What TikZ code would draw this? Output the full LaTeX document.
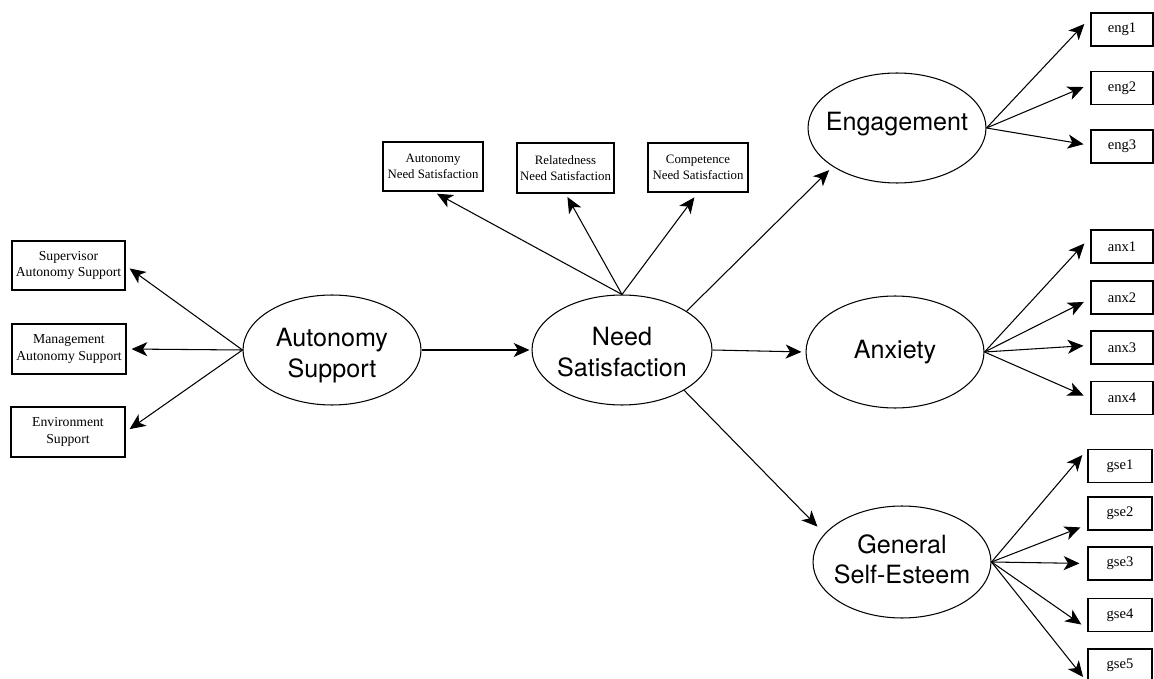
\documentclass[tikz,border=0pt]{standalone}
\usepackage{fontspec}
\setmainfont{Liberation Serif}
\newfontfamily\latentfont{TeX Gyre Heros}
\usetikzlibrary{shapes.geometric,arrows.meta}
% a line of text that takes no width, so the ellipse keeps its set size
\newcommand\zerowd[1]{\makebox[0pt][c]{#1}}
\begin{document}
\begin{tikzpicture}[x=0.02cm,y=-0.02cm,
  latent/.style={ellipse,draw,line width=0.6pt,inner sep=0pt,
    minimum width=3.56cm,minimum height=2.2cm,align=center,
    font=\latentfont\fontsize{14.3}{17.5}\selectfont},
  indic/.style={rectangle,draw,line width=0.6pt,inner sep=0pt,align=center,
    font=\fontsize{7.8}{9.5}\selectfont},
  obsbox/.style={rectangle,draw,line width=0.6pt,inner sep=0pt,
    minimum width=1.24cm,minimum height=0.66cm,
    font=\fontsize{8.3}{10}\selectfont},
  link/.style={draw,line width=0.6pt,-{Stealth[length=9pt,width=8pt,inset=2.5pt]}}
]
\useasboundingbox (0,0) rectangle (1154,679);

% latent factors (invisible rules set the vertical placement of the labels)
\node[latent] (as)  at (332,350) {\zerowd{\rule{0pt}{16.5pt}Autonomy}\\\zerowd{Support}};
\node[latent,minimum width=3.6cm] (ns)  at (622,350) {\zerowd{\rule{0pt}{12.6pt}Need}\\\zerowd{Satisfaction}};
\node[latent] (eng) at (897,128) {\zerowd{Engagement\rule[-7.6pt]{0pt}{7.6pt}}};
\node[latent,minimum height=2.24cm] (anx) at (895,352) {\zerowd{Anxiety}};
\node[latent,minimum height=2.24cm] (gse) at (902,562) {\zerowd{General}\\\zerowd{Self-Esteem\rule[-3.4pt]{0pt}{3.4pt}}};

% indicators of autonomy support
\node[indic,minimum width=2.26cm,minimum height=0.98cm] (sup) at (68.5,265.5) {Supervisor\\Autonomy Support};
\node[indic,minimum width=2.28cm,minimum height=1.0cm] (man) at (69,349) {Management\\Autonomy Support};
\node[indic,minimum width=2.28cm,minimum height=1.0cm] (env) at (68,432) {Environment\\Support};

% indicators of need satisfaction
\node[indic,minimum width=2.0cm,minimum height=0.98cm,font=\fontsize{7.3}{9.2}\selectfont] (ans) at (433,166.5) {Autonomy\\Need Satisfaction};
\node[indic,minimum width=1.94cm,minimum height=1.0cm,font=\fontsize{7.3}{9.2}\selectfont] (rns) at (565.5,168) {Relatedness\\Need Satisfaction};
\node[indic,minimum width=2.0cm,minimum height=0.98cm,font=\fontsize{7.3}{9.2}\selectfont] (cns) at (698,167.5) {Competence\\Need Satisfaction};

% engagement items
\node[obsbox] (e1) at (1122,29.5) {eng1};
\node[obsbox] (e2) at (1122,88) {eng2};
\node[obsbox] (e3) at (1122,146.5) {eng3};

% anxiety items
\node[obsbox] (a1) at (1122,246.5) {anx1};
\node[obsbox] (a2) at (1122,297.5) {anx2};
\node[obsbox] (a3) at (1122,347.5) {anx3};
\node[obsbox] (a4) at (1122,398) {anx4};

% self-esteem items
\node[obsbox,minimum width=1.28cm] (g1) at (1120,466) {gse1};
\node[obsbox,minimum width=1.28cm] (g2) at (1120,513.5) {gse2};
\node[obsbox,minimum width=1.28cm] (g3) at (1120,563.5) {gse3};
\node[obsbox,minimum width=1.28cm] (g4) at (1120,615) {gse4};
\node[obsbox,minimum width=1.28cm] (g5) at (1120,665.5) {gse5};

% structural paths
\draw[link,shorten >=0.04cm] (as.east) -- (ns.west);
\draw[link,shorten >=0.08cm] (ns.east) -- (anx.west);
\draw[link,shorten >=0.1cm] (ns.31) -- (eng.211);
\draw[link,shorten >=0.2cm] (ns.327) -- (gse.160);

% loadings
\foreach \t in {sup,man,env}
  \draw[link,shorten >=0.1cm] (as.west) -- (\t.east);
\draw[link,shorten >=0.09cm] (ns.north) -- (ans.south);
\draw[link,shorten >=0.08cm] (ns.north) -- (rns.south);
\draw[link,shorten >=0.12cm] (ns.north) -- (cns.south);

\draw[link,shorten >=0.18cm] (eng.east) -- (e1.159);
\draw[link,shorten >=0.15cm] (eng.east) -- (e2.173);
\draw[link,shorten >=0.14cm] (eng.east) -- (e3.178);

\draw[link,shorten >=0.18cm] (anx.east) -- (a1.163);
\draw[link,shorten >=0.15cm] (anx.east) -- (a2.182);
\draw[link,shorten >=0.14cm] (anx.east) -- (a3.176);
\draw[link,shorten >=0.15cm] (anx.east) -- (a4.181);

\draw[link,shorten >=0.16cm] (gse.east) -- (g1.north west);
\draw[link,shorten >=0.15cm] (gse.east) -- (g2.199);
\draw[link,shorten >=0.16cm] (gse.east) -- (g3.west);
\draw[link,shorten >=0.15cm] (gse.east) -- (g4.203);
\draw[link,shorten >=0.14cm] (gse.east) -- (g5.south west);
\end{tikzpicture}
\end{document}
